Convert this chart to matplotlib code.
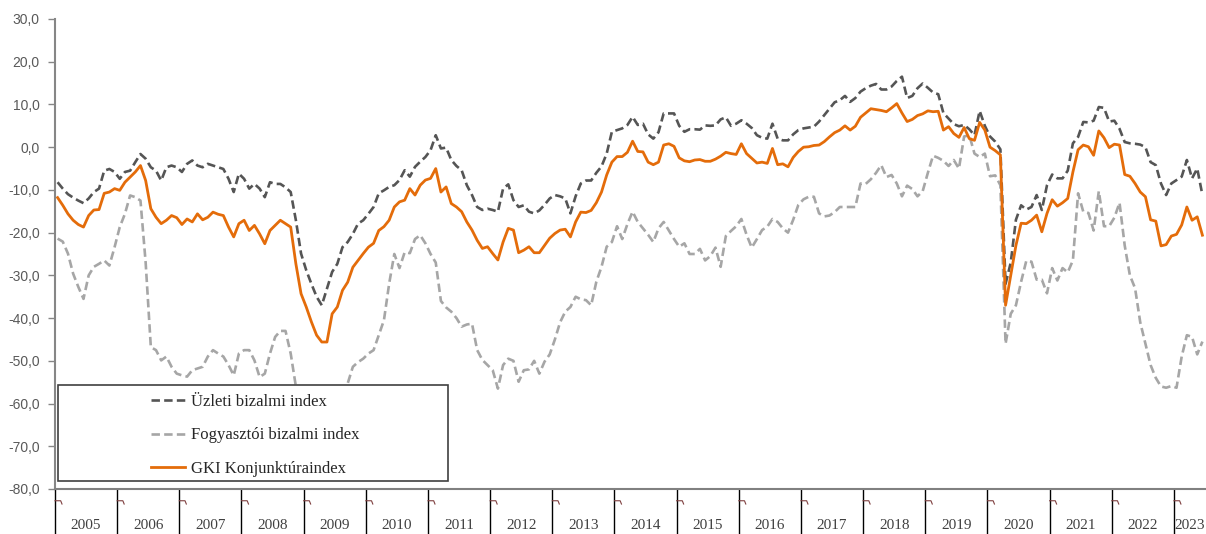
import numpy as np
import matplotlib
matplotlib.use('Agg')
import matplotlib.pyplot as plt
from matplotlib.patches import Rectangle

# monthly data, Jan 2005 - Jun 2023
years = list(range(2005, 2024))

uzleti = [
    -8.2, -9.7, -11.0, -11.8, -12.5, -13.1, -12.0, -10.5, -9.7, -5.5, -5.1, -5.8,      # 2005
    -7.4, -5.8, -5.5, -3.5, -1.6, -2.7, -4.7, -5.5, -7.8, -4.7, -4.3, -4.7,            # 2006
    -5.8, -3.9, -3.1, -4.3, -4.7, -3.9, -4.3, -4.7, -5.1, -7.4, -10.5, -6.2,           # 2007
    -7.4, -9.7, -8.6, -9.7, -11.7, -8.2, -8.6, -8.6, -9.4, -10.5, -17.1, -24.9,        # 2008
    -28.8, -32.0, -35.0, -37.0, -33.1, -29.2, -27.3, -23.4, -22.2, -20.3, -17.9, -17.1,  # 2009
    -15.6, -14.0, -10.8, -10.1, -9.3, -8.9, -7.7, -5.4, -6.9, -4.6, -3.4, -2.3,        # 2010
    -0.7, 2.8, -0.3, -0.1, -3.0, -4.4, -5.4, -8.9, -11.2, -14.0, -14.7, -14.4,         # 2011
    -14.7, -15.1, -9.7, -8.7, -12.4, -14.0, -13.6, -15.1, -15.5, -14.8, -13.5, -12.0,  # 2012
    -11.2, -11.5, -12.0, -15.5, -11.5, -8.5, -7.8, -7.8, -6.0, -4.5, -1.5, 3.6,        # 2013
    4.0, 4.4, 5.2, 7.1, 5.2, 5.5, 3.0, 2.0, 3.5, 7.9, 7.9, 7.9,                        # 2014
    5.0, 3.6, 4.2, 4.2, 4.1, 5.1, 5.0, 5.1, 6.5, 7.0, 5.0, 5.5,                        # 2015
    6.3, 5.5, 4.5, 2.8, 2.2, 2.0, 5.5, 2.0, 1.6, 1.6, 3.0, 4.0,                        # 2016
    4.4, 4.6, 4.8, 6.0, 7.5, 9.0, 10.5, 11.0, 12.0, 10.6, 11.5, 13.0,                  # 2017
    13.8, 14.4, 14.8, 13.5, 13.5, 14.2, 15.5, 16.5, 11.5, 12.0, 13.8, 14.9,            # 2018
    13.9, 12.8, 12.4, 8.0, 6.7, 5.4, 4.9, 5.2, 4.2, 2.8, 8.5, 5.0,                     # 2019
    2.5, 1.3, -0.5, -32.0, -27.0, -17.0, -13.6, -14.6, -14.0, -11.2, -14.7, -8.9,      # 2020
    -6.4, -7.3, -7.3, -5.5, 0.9, 2.4, 5.9, 5.8, 6.2, 9.4, 9.2, 6.0,                    # 2021
    6.2, 4.3, 1.2, 0.9, 0.8, 0.6, 0.0, -3.5, -4.2, -8.5, -11.2, -8.5,                  # 2022
    -7.7, -6.9, -3.0, -7.3, -5.0, -11.2,                                               # 2023
]

fogyasztoi = [
    -21.4, -22.1, -24.9, -29.6, -32.7, -35.5, -30.0, -28.0, -27.3, -26.5, -27.7, -23.4,  # 2005
    -18.7, -15.6, -11.3, -11.7, -12.5, -27.0, -46.8, -47.5, -49.9, -49.0, -51.4, -53.0,  # 2006
    -53.4, -53.7, -52.2, -51.8, -51.4, -49.0, -47.5, -48.3, -49.0, -51.0, -53.4, -48.3,  # 2007
    -47.5, -47.5, -49.9, -53.8, -53.0, -48.3, -44.4, -43.0, -43.0, -48.3, -56.0, -58.0,  # 2008
    -60.0, -61.0, -62.0, -62.0, -61.0, -60.0, -58.0, -57.0, -55.3, -51.4, -50.3, -49.5,  # 2009
    -48.3, -47.5, -44.0, -40.5, -32.0, -25.0, -28.3, -24.6, -24.8, -21.5, -20.6, -22.5,  # 2010
    -25.0, -27.0, -36.0, -37.5, -38.5, -40.0, -42.0, -41.5, -41.3, -47.5, -49.8, -51.0,  # 2011
    -52.2, -56.5, -51.0, -49.5, -50.0, -54.9, -52.2, -52.0, -50.0, -53.0, -50.2, -48.5,  # 2012
    -45.0, -41.0, -38.5, -37.4, -35.0, -35.6, -35.8, -37.0, -31.5, -28.0, -23.3, -22.2,  # 2013
    -18.5, -21.5, -18.0, -15.1, -17.5, -19.0, -20.5, -22.2, -19.0, -17.5, -19.5, -21.5,  # 2014
    -23.3, -22.5, -25.0, -25.0, -23.8, -26.5, -25.5, -23.5, -28.0, -20.8, -19.6, -18.5,  # 2015
    -16.8, -20.5, -23.5, -21.5, -19.4, -18.6, -16.8, -17.5, -19.0, -20.0, -17.0, -13.5,  # 2016
    -12.2, -11.6, -11.6, -15.5, -16.2, -16.0, -15.2, -14.0, -14.0, -14.0, -14.0, -8.5,   # 2017
    -8.6, -7.5, -6.0, -4.2, -7.0, -6.5, -8.5, -11.5, -9.0, -9.8, -11.5, -10.3,           # 2018
    -6.0, -2.0, -2.5, -3.2, -4.4, -3.0, -5.0, 2.5, 2.8, -1.5, -2.3, -1.5,                # 2019
    -6.8, -6.6, -8.9, -46.0, -39.0, -37.0, -31.5, -26.6, -26.8, -31.0, -31.0, -34.2,     # 2020
    -28.3, -31.2, -28.3, -29.3, -26.5, -10.8, -15.1, -15.4, -19.5, -10.3, -18.5, -18.5,  # 2021
    -16.5, -13.0, -23.0, -30.0, -33.0, -41.0, -46.0, -51.0, -54.0, -56.0, -56.3, -55.9,  # 2022
    -56.3, -49.0, -44.0, -44.4, -48.5, -45.5,                                            # 2023
]

gki = [
    -11.8, -13.6, -15.6, -17.1, -18.1, -18.7, -16.0, -14.7, -14.6, -10.8, -10.5, -9.7,   # 2005
    -10.1, -8.2, -7.0, -5.8, -4.3, -7.8, -14.4, -16.4, -17.9, -17.1, -16.0, -16.5,       # 2006
    -18.1, -16.8, -17.5, -15.6, -17.0, -16.4, -15.2, -15.7, -16.0, -18.7, -21.0, -17.9,  # 2007
    -17.1, -19.5, -18.3, -20.3, -22.6, -19.5, -18.3, -17.1, -17.9, -18.7, -27.3, -34.3,  # 2008
    -37.4, -40.9, -44.0, -45.6, -45.6, -39.0, -37.4, -33.5, -31.6, -28.1, -26.5, -24.9,  # 2009
    -23.4, -22.5, -19.5, -18.6, -17.1, -14.0, -12.8, -12.4, -9.7, -11.2, -8.9, -7.7,     # 2010
    -7.3, -5.0, -10.5, -9.3, -13.2, -14.0, -15.1, -17.5, -19.4, -21.8, -23.7, -23.3,     # 2011
    -24.9, -26.4, -22.2, -19.0, -19.4, -24.7, -24.1, -23.3, -24.7, -24.7, -23.0, -21.3,  # 2012
    -20.2, -19.4, -19.2, -21.0, -17.5, -15.2, -15.3, -14.8, -13.0, -10.5, -6.5, -3.5,    # 2013
    -2.2, -2.2, -1.2, 1.4, -1.0, -1.1, -3.5, -4.1, -3.5, 0.5, 0.8, 0.2,                  # 2014
    -2.5, -3.2, -3.4, -3.0, -2.9, -3.3, -3.3, -2.8, -2.1, -1.2, -1.5, -1.7,              # 2015
    0.8, -1.5, -2.6, -3.7, -3.5, -3.8, -0.3, -4.1, -3.9, -4.6, -2.4, -1.0,               # 2016
    0.0, 0.1, 0.4, 0.5, 1.3, 2.4, 3.4, 4.0, 5.0, 4.0, 4.9, 7.0,                          # 2017
    8.0, 9.0, 8.8, 8.6, 8.3, 9.2, 10.2, 8.0, 6.0, 6.5, 7.4, 7.8,                         # 2018
    8.5, 8.3, 8.4, 4.0, 4.8, 3.2, 2.3, 4.6, 2.0, 1.6, 5.8, 4.0,                          # 2019
    0.0, -0.8, -1.8, -37.0, -30.0, -23.0, -17.8, -17.9, -17.1, -15.9, -19.8, -15.5,      # 2020
    -12.3, -13.8, -13.0, -12.0, -5.8, -0.6, 0.5, 0.1, -1.9, 3.8, 2.2, -0.1,              # 2021
    0.7, 0.5, -6.4, -6.8, -8.5, -10.5, -11.6, -17.0, -17.3, -23.1, -22.8, -20.8,         # 2022
    -20.4, -18.2, -14.0, -17.1, -16.3, -20.6,                                            # 2023
]

labels = ['Üzleti bizalmi index', 'Fogyasztói bizalmi index', 'GKI Konjunktúraindex']

n = len(gki)
x = np.arange(n)

fig = plt.figure(figsize=(12.06, 5.34), dpi=100)
ax = fig.add_axes([55/1206, 45/534, 1150/1206, 470/534])

ax.plot(x, uzleti, color='#555555', lw=1.9, ls=(0, (3.2, 1.6)), label=labels[0], zorder=2)
ax.plot(x, fogyasztoi, color='#a6a6a6', lw=1.9, ls=(0, (3.2, 1.6)), label=labels[1], zorder=2)
ax.plot(x, gki, color='#e46c0a', lw=2.0, label=labels[2], zorder=2.5)

ax.set_xlim(-0.5, n - 0.5)
ax.set_ylim(-80, 30)
yt = np.arange(-80, 31, 10)
ax.set_yticks(yt)
ax.set_yticklabels([('%.1f' % v).replace('.', ',') for v in yt], family='Liberation Sans',
                   fontsize=10, color='#595959')
ax.tick_params(axis='y', length=5, width=1, color='#868686', pad=6)
ax.set_xticks([])

for s in ['top', 'right']:
    ax.spines[s].set_visible(False)
ax.spines['left'].set_color('#868686')
ax.spines['left'].set_linewidth(1.5)
ax.spines['bottom'].set_color('#808080')
ax.spines['bottom'].set_linewidth(1.5)
ax.spines['left'].set_zorder(4)
ax.spines['bottom'].set_zorder(4)

# year separators and labels below the axis
tr = ax.get_xaxis_transform()
for i, yr in enumerate(years):
    b = i * 12 - 0.5
    ax.plot([b, b], [0, -0.096], color='black', lw=1, transform=tr, clip_on=False)
    ax.plot([b, b + 1.1, b + 1.35], [-0.025, -0.025, -0.032], color='#7f3f3f', lw=0.8,
            transform=tr, clip_on=False)
    end = min(i * 12 + 12, n)
    ax.text((i * 12 + end - 1) / 2.0, -0.078, str(yr), transform=tr, ha='center', va='center',
            family='Liberation Serif', fontsize=11, color='#404040')

# legend box
ax.add_patch(Rectangle((0.0026, 0.016), 0.339, 0.205, transform=ax.transAxes,
                       facecolor='white', edgecolor='#404040', lw=1.2, zorder=3))
leg = ax.legend(loc='center', bbox_to_anchor=(0.174, 0.114), frameon=False,
                prop={'family': 'Liberation Serif', 'size': 12}, handlelength=2.05,
                handletextpad=0.36, labelspacing=1.05)
leg.set_zorder(5)
for t in leg.get_texts():
    t.set_color('#262626')

fig.savefig('out.png', dpi=100)
